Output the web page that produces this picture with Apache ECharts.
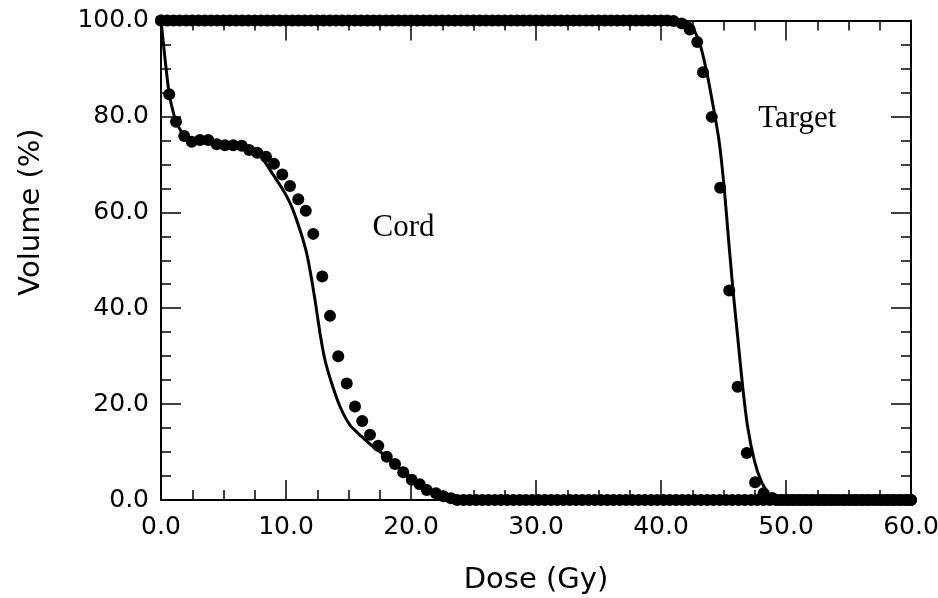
<!DOCTYPE html>
<html>
<head>
<meta charset="utf-8">
<script src="https://cdn.jsdelivr.net/npm/echarts@6/dist/echarts.min.js"></script>
<style>
  html, body { margin: 0; padding: 0; background: #fff; }
  #chart { width: 938px; height: 598px; }
</style>
</head>
<body>
<div id="chart"></div>
<script>
// ---------------- data ----------------
const xTicks = [0, 10, 20, 30, 40, 50, 60];
const yTicks = [0, 20, 40, 60, 80, 100];

// Cord: measured points (dots)
const cordDotDose = [
  0, 0.66, 1.2, 1.86, 2.46, 3.12, 3.78, 4.46, 5.12, 5.78,
  6.46, 7.06, 7.7, 8.4, 9.04, 9.7, 10.32, 10.98, 11.58, 12.18,
  12.9, 13.52, 14.18, 14.86, 15.52, 16.1, 16.72, 17.38, 18.06, 18.72,
  19.38, 20.06, 20.7, 21.26, 22.0, 22.6, 23.2,
  23.7, 24.2, 24.7, 25.2, 25.7, 26.2, 26.7, 27.2, 27.7, 28.2,
  28.7, 29.2, 29.7, 30.2, 30.7, 31.2, 31.7, 32.2, 32.7, 33.2,
  33.7, 34.2, 34.7, 35.2, 35.7, 36.2, 36.7, 37.2, 37.7, 38.2,
  38.7, 39.2, 39.7, 40.2, 40.7, 41.2, 41.7, 42.2, 42.7, 43.2,
  43.7, 44.2, 44.7, 45.2, 45.7, 46.2, 46.7, 47.2, 47.7, 48.2,
  48.7, 49.2, 49.7, 50.2, 50.7, 51.2, 51.7, 52.2, 52.7, 53.2,
  53.7, 54.2, 54.7, 55.2, 55.7, 56.2, 56.7, 57.2, 57.7, 58.2,
  58.7, 59.2, 59.7, 60.0
];
const cordDotVol = [
  100, 84.6, 78.9, 75.9, 74.7, 75.1, 75.1, 74.2, 74.0, 74.0,
  73.9, 73.0, 72.4, 71.6, 70.1, 67.9, 65.5, 62.7, 60.3, 55.5,
  46.6, 38.4, 30.0, 24.3, 19.5, 16.5, 13.6, 11.3, 9.0, 7.5,
  5.8, 4.2, 3.3, 2.1, 1.4, 0.8, 0.35,
  0, 0, 0, 0, 0, 0, 0, 0, 0, 0,
  0, 0, 0, 0, 0, 0, 0, 0, 0, 0,
  0, 0, 0, 0, 0, 0, 0, 0, 0, 0,
  0, 0, 0, 0, 0, 0, 0, 0, 0, 0,
  0, 0, 0, 0, 0, 0, 0, 0, 0, 0,
  0, 0, 0, 0, 0, 0, 0, 0, 0, 0,
  0, 0, 0, 0, 0, 0, 0, 0, 0, 0,
  0, 0, 0, 0
];

// Cord: calculated curve (line)
const cordLineDose = [
  0, 0.66, 1.2, 1.86, 2.46, 3.12, 3.78, 4.46, 5.12, 5.78,
  6.46, 7.06, 7.7, 8.18, 8.98, 9.78, 10.45, 11.12, 11.66, 12.06,
  12.32, 12.72, 13.12, 13.66, 14.32, 15.12, 16.06, 16.98, 18.06, 19.12,
  20.18, 21.0, 21.8, 22.5, 23.2, 24.0, 60.0
];
const cordLineVol = [
  100, 84.6, 78.9, 75.9, 74.9, 75.0, 74.8, 74.3, 74.0, 74.0,
  73.7, 72.9, 72.2, 71.0, 67.8, 64.6, 61.2, 56.3, 51.4, 45.9,
  41.7, 34.8, 29.2, 24.3, 19.5, 15.6, 13.2, 11.1, 9.0, 6.6,
  4.2, 2.9, 1.7, 0.9, 0.35, 0, 0
];

// Target: measured points (dots)
const targetDotDose = [
  0, 0.5, 1, 1.5, 2, 2.5, 3, 3.5, 4, 4.5,
  5, 5.5, 6, 6.5, 7, 7.5, 8, 8.5, 9, 9.5,
  10, 10.5, 11, 11.5, 12, 12.5, 13, 13.5, 14, 14.5,
  15, 15.5, 16, 16.5, 17, 17.5, 18, 18.5, 19, 19.5,
  20, 20.5, 21, 21.5, 22, 22.5, 23, 23.5, 24, 24.5,
  25, 25.5, 26, 26.5, 27, 27.5, 28, 28.5, 29, 29.5,
  30, 30.5, 31, 31.5, 32, 32.5, 33, 33.5, 34, 34.5,
  35, 35.5, 36, 36.5, 37, 37.5, 38, 38.5, 39, 39.5,
  40, 40.5, 41.0, 41.65, 42.3, 42.9, 43.36, 44.06, 44.73, 45.46,
  46.13, 46.86, 47.53, 48.21, 48.9, 49.5, 50, 50.5, 51, 51.5,
  52, 52.5, 53, 53.5, 54, 54.5, 55, 55.5, 56, 56.5,
  57, 57.5, 58, 58.5, 59, 59.5, 60
];
const targetDotVol = [
  100, 100, 100, 100, 100, 100, 100, 100, 100, 100,
  100, 100, 100, 100, 100, 100, 100, 100, 100, 100,
  100, 100, 100, 100, 100, 100, 100, 100, 100, 100,
  100, 100, 100, 100, 100, 100, 100, 100, 100, 100,
  100, 100, 100, 100, 100, 100, 100, 100, 100, 100,
  100, 100, 100, 100, 100, 100, 100, 100, 100, 100,
  100, 100, 100, 100, 100, 100, 100, 100, 100, 100,
  100, 100, 100, 100, 100, 100, 100, 100, 100, 100,
  100, 100, 99.9, 99.4, 98.1, 95.5, 89.2, 79.9, 65.1, 43.7,
  23.6, 9.8, 3.7, 1.4, 0.4, 0, 0, 0, 0, 0,
  0, 0, 0, 0, 0, 0, 0, 0, 0, 0,
  0, 0, 0, 0, 0, 0, 0
];

// Target: calculated curve (line)
const targetLineDose = [
  0, 41.5, 42.0, 42.36, 43.04, 43.58, 44.1, 44.65, 45.06, 45.38,
  45.73, 46.13, 46.54, 46.94, 47.48, 48.02, 48.7, 49.4, 50.0, 60.0
];
const targetLineVol = [
  100, 100, 99.8, 99.3, 95.8, 90.2, 83.2, 74.8, 65.0, 55.1,
  44.6, 34.1, 23.5, 15.1, 8.1, 3.9, 1.0, 0.35, 0, 0
];

const annotations = [
  { text: 'Cord', dose: 19.4, vol: 56.8 },
  { text: 'Target', dose: 50.9, vol: 79.4 }
];

// ---------------- chart ----------------
const pairs = (xs, ys) => xs.map((x, i) => [x, ys[i]]);
const ink = '#000';
const tickFont = { fontFamily: 'DejaVu Sans', fontSize: 25, color: ink };

function axisCommon(showLabels, interval, margin) {
  return {
    type: 'value',
    interval: interval,
    axisLine: { show: true, onZero: false, lineStyle: { color: ink, width: 2 } },
    axisTick: { show: true, inside: true, length: 20, lineStyle: { color: ink, width: 1.5 } },
    minorTick: { show: true, splitNumber: 4, length: 10, lineStyle: { color: ink, width: 1.5 } },
    splitLine: { show: false },
    minorSplitLine: { show: false },
    axisLabel: Object.assign({ show: showLabels, margin: margin, formatter: v => v.toFixed(1) }, tickFont)
  };
}

const chart = echarts.init(document.getElementById('chart'), null, { renderer: 'canvas' });

const option = {
  backgroundColor: '#fff',
  animation: false,
  grid: { left: 161, right: 27, top: 20.5, bottom: 98, containLabel: false, outerBoundsMode: 'none' },
  xAxis: [
    Object.assign(axisCommon(true, 10, 15), {
      min: xTicks[0], max: xTicks[xTicks.length - 1], position: 'bottom',
      name: 'Dose (Gy)', nameLocation: 'middle', nameGap: 66,
      nameTextStyle: { fontFamily: 'DejaVu Sans', fontSize: 29, color: ink }
    }),
    Object.assign(axisCommon(false, 10, 8), {
      min: xTicks[0], max: xTicks[xTicks.length - 1], position: 'top'
    })
  ],
  yAxis: [
    Object.assign(axisCommon(true, 20, 12), {
      min: yTicks[0], max: yTicks[yTicks.length - 1], position: 'left'
    }),
    Object.assign(axisCommon(false, 20, 8), {
      min: yTicks[0], max: yTicks[yTicks.length - 1], position: 'right'
    })
  ],
  series: [
    {
      name: 'Cord calculated', type: 'line', data: pairs(cordLineDose, cordLineVol),
      showSymbol: false, smooth: 0.2,
      lineStyle: { color: ink, width: 3 }, z: 3
    },
    {
      name: 'Target calculated', type: 'line', data: pairs(targetLineDose, targetLineVol),
      showSymbol: false, smooth: 0.2,
      lineStyle: { color: ink, width: 3 }, z: 3
    },
    {
      name: 'Cord measured', type: 'scatter', data: pairs(cordDotDose, cordDotVol),
      symbol: 'circle', symbolSize: 12, itemStyle: { color: ink, opacity: 1 }, z: 4
    },
    {
      name: 'Target measured', type: 'scatter', data: pairs(targetDotDose, targetDotVol),
      symbol: 'circle', symbolSize: 12, itemStyle: { color: ink, opacity: 1 }, z: 4
    }
  ]
};
chart.setOption(option);

// Text annotations placed through the chart's own coordinate conversion
const graphics = annotations.map(a => {
  const p = chart.convertToPixel({ gridIndex: 0 }, [a.dose, a.vol]);
  return {
    type: 'text', x: p[0], y: p[1], z: 10,
    style: {
      text: a.text, fill: ink, font: '31px "Liberation Serif"',
      textAlign: 'center', textVerticalAlign: 'middle'
    }
  };
});
graphics.push({
  type: 'text', x: 31, y: 212, rotation: Math.PI / 2, z: 10,
  style: {
    text: 'Volume (%)', fill: ink, font: '29px "DejaVu Sans"',
    textAlign: 'center', textVerticalAlign: 'middle'
  }
});
chart.setOption({ graphic: graphics });
</script>
</body>
</html>
